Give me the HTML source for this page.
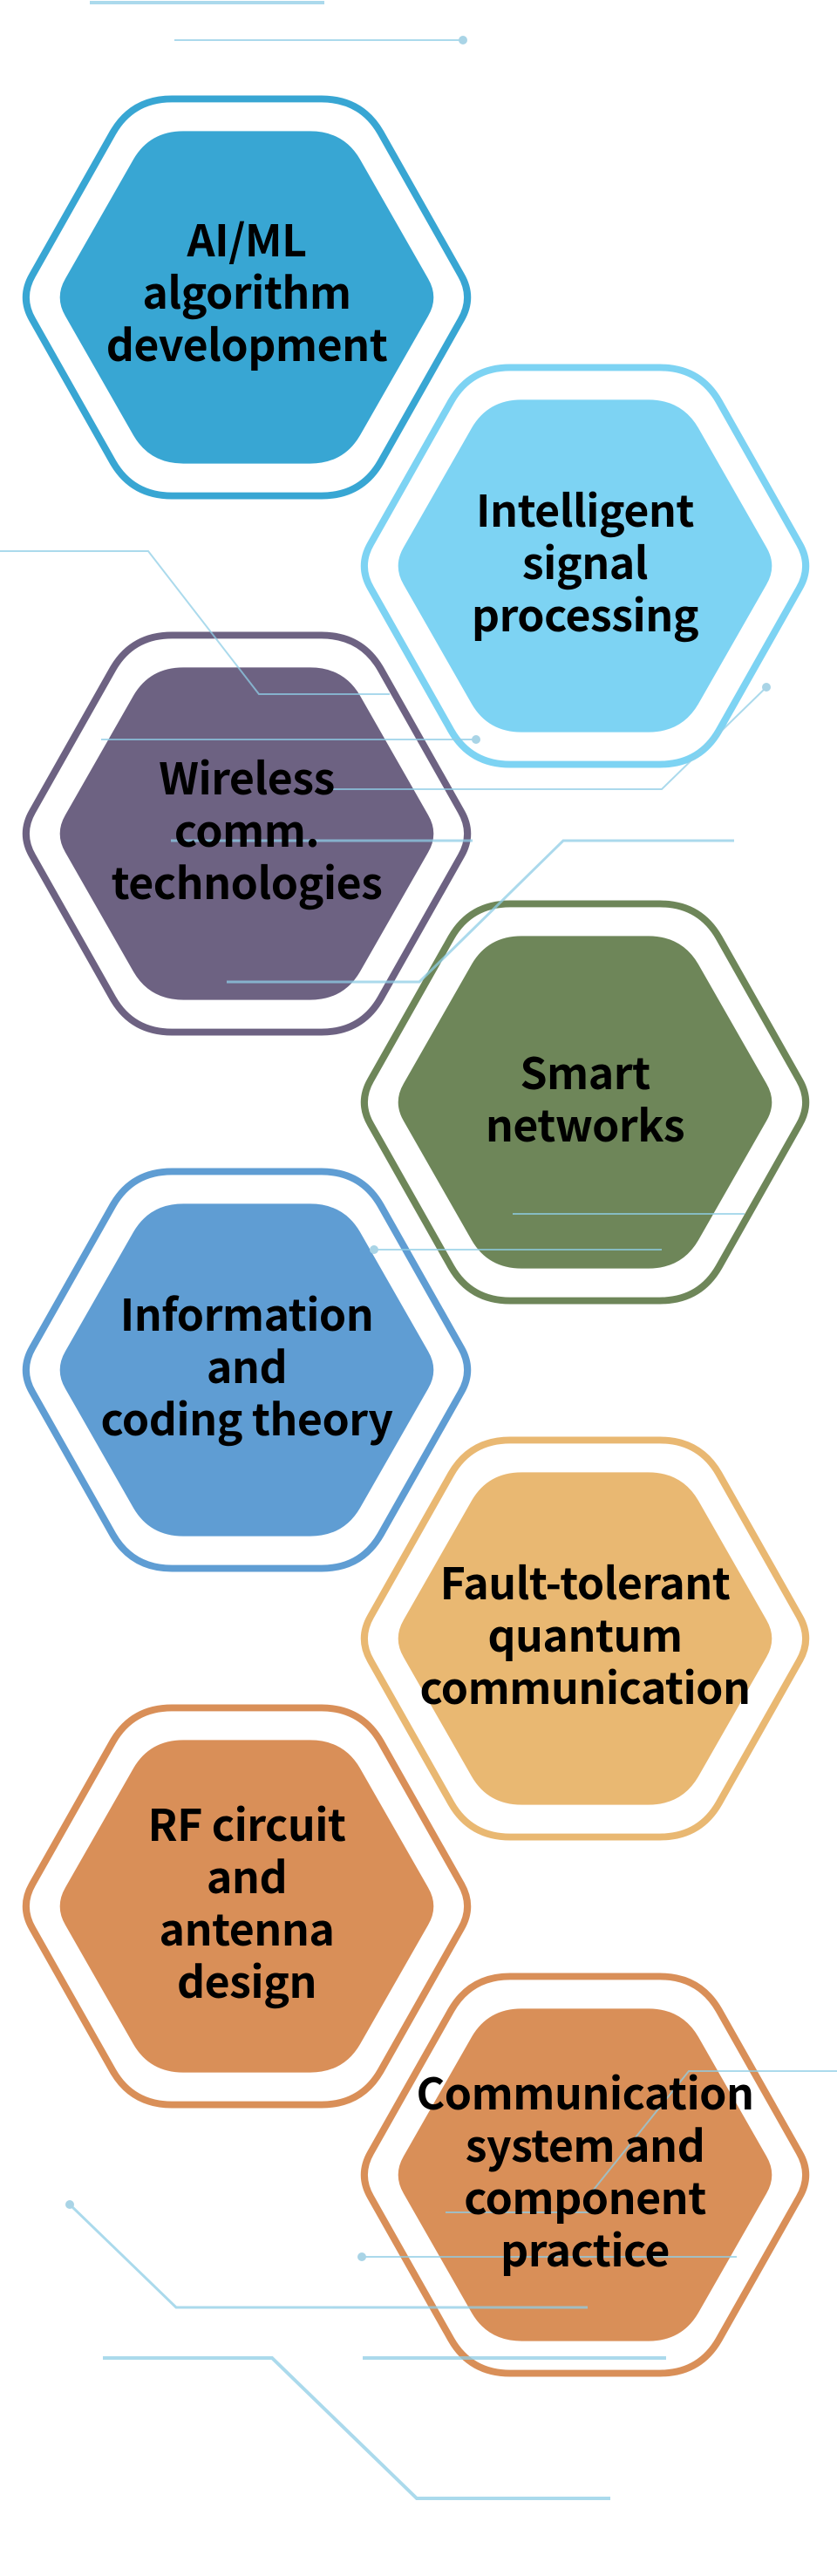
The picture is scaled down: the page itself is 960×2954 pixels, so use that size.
<!DOCTYPE html>
<html><head><meta charset="utf-8">
<style>
html,body{margin:0;padding:0;background:#fff;}
body{width:960px;height:2954px;position:relative;overflow:hidden;}
svg{position:absolute;left:0;top:0;}
.t{position:absolute;width:420px;height:360px;display:flex;align-items:center;justify-content:center;text-align:center;
font-family:"Noto Sans CJK SC","Liberation Sans",sans-serif;font-weight:bold;font-size:50px;line-height:60px;color:#000;letter-spacing:-0.5px;}
</style></head><body>
<svg width="960" height="2954" viewBox="0 0 960 2954">
<defs>
<path id="hx" d="M -243.3,-26.1 L -152,-191.8 Q -130,-231 -85,-231 L 85,-231 Q 130,-231 152,-191.8 L 243.3,-26.1 Q 258,0 243.3,26.1 L 152,191.8 Q 130,231 85,231 L -85,231 Q -130,231 -152,191.8 L -243.3,26.1 Q -258,0 -243.3,-26.1 Z"/>
</defs>
<g transform="translate(283,341)"><use href="#hx" transform="scale(1.01,0.985)" fill="none" stroke="#38a6d3" stroke-width="8"/><use href="#hx" transform="scale(0.855,0.825)" fill="#38a6d3"/></g>
<g transform="translate(671,649)"><use href="#hx" transform="scale(1.01,0.985)" fill="none" stroke="#7dd3f3" stroke-width="8"/><use href="#hx" transform="scale(0.855,0.825)" fill="#7dd3f3"/></g>
<g transform="translate(283,956)"><use href="#hx" transform="scale(1.01,0.985)" fill="none" stroke="#6d6282" stroke-width="8"/><use href="#hx" transform="scale(0.855,0.825)" fill="#6d6282"/></g>
<g transform="translate(671,1264)"><use href="#hx" transform="scale(1.01,0.985)" fill="none" stroke="#6e8659" stroke-width="8"/><use href="#hx" transform="scale(0.855,0.825)" fill="#6e8659"/></g>
<g transform="translate(283,1571)"><use href="#hx" transform="scale(1.01,0.985)" fill="none" stroke="#5f9dd3" stroke-width="8"/><use href="#hx" transform="scale(0.855,0.825)" fill="#5f9dd3"/></g>
<g transform="translate(671,1879)"><use href="#hx" transform="scale(1.01,0.985)" fill="none" stroke="#e9b872" stroke-width="8"/><use href="#hx" transform="scale(0.855,0.825)" fill="#e9b872"/></g>
<g transform="translate(283,2186)"><use href="#hx" transform="scale(1.01,0.985)" fill="none" stroke="#d98f58" stroke-width="8"/><use href="#hx" transform="scale(0.855,0.825)" fill="#d98f58"/></g>
<g transform="translate(671,2494)"><use href="#hx" transform="scale(1.01,0.985)" fill="none" stroke="#d98f58" stroke-width="8"/><use href="#hx" transform="scale(0.855,0.825)" fill="#d98f58"/></g>
<g fill="none" stroke="#8fcde6" stroke-width="2" opacity="0.75">
<line x1="103" y1="3" x2="372" y2="3" stroke-width="4"/>
<line x1="200" y1="46" x2="530" y2="46"/>
<polyline points="0,632 170,632 297,796 447,796"/>
<line x1="116" y1="848" x2="545" y2="848"/>
<polyline points="879,788 759,905 380,905"/>
<line x1="196" y1="964" x2="542" y2="964" stroke-width="3"/>
<polyline points="842,964 646,964 481,1126 260,1126" stroke-width="3"/>
<line x1="588" y1="1392" x2="854" y2="1392"/>
<line x1="429" y1="1433" x2="759" y2="1433"/>
<polyline points="960,2375 790,2375 680,2512"/>
<line x1="511" y1="2537" x2="680" y2="2537"/>
<polyline points="80,2528 202,2646 674,2646" stroke-width="3"/>
<line x1="415" y1="2588" x2="845" y2="2588"/>
<polyline points="118,2704 312,2704 478,2865 700,2865" stroke-width="4"/>
<line x1="416" y1="2704" x2="764" y2="2704" stroke-width="4"/>
</g>
<g fill="#a9d4e6">
<circle cx="531" cy="46" r="5"/><circle cx="546" cy="848" r="5"/><circle cx="879" cy="788" r="5"/>
<circle cx="429" cy="1433" r="5"/><circle cx="80" cy="2528" r="5"/><circle cx="415" cy="2588" r="5"/>
</g>
</svg>
<div class="t" style="left:73px;top:153px;">AI/ML<br>algorithm<br>development</div>
<div class="t" style="left:461px;top:463px;">Intelligent<br>signal<br>processing</div>
<div class="t" style="left:73px;top:770px;">Wireless<br>comm.<br>technologies</div>
<div class="t" style="left:461px;top:1078px;">Smart<br>networks</div>
<div class="t" style="left:73px;top:1385px;">Information<br>and<br>coding theory</div>
<div class="t" style="left:461px;top:1693px;">Fault-tolerant<br>quantum<br>communication</div>
<div class="t" style="left:73px;top:2000px;">RF circuit<br>and<br>antenna<br>design</div>
<div class="t" style="left:451px;top:2308px;width:440px;">Communication<br>system and<br>component<br>practice</div>
</body></html>
